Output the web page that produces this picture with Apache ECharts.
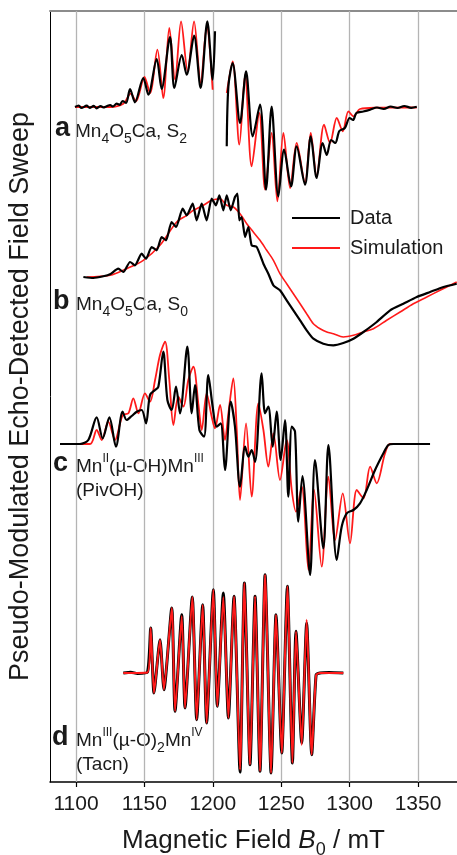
<!DOCTYPE html>
<html>
<head>
<meta charset="utf-8">
<title>Pseudo-modulated echo-detected field sweeps</title>
<style>
  html, body { margin: 0; padding: 0; background: #fff; }
  #chart { width: 457px; height: 855px; }
</style>
<script src="https://cdn.jsdelivr.net/npm/echarts@6/dist/echarts.min.js"></script>
</head>
<body>
<div id="chart"></div>
<script>
// field (mT), intensity (arb. units, relative to each trace's own baseline)
const xTicks = [1100, 1150, 1200, 1250, 1300, 1350];
const traceOffsets = [675, 505, 338, 109]; // a, b, c, d stacked

// a: Mn4O5Ca, S2 (gap around 1205 mT)
const aData = [
  [1099.3, 0], [1102, 1.5], [1104, -1], [1107.8, 1.3], [1110, -0.8], [1113, 1.2], [1115.1, -1.3],
  [1118, 1], [1120, -0.5], [1122.4, 0.7], [1125, 2], [1127, 0.5], [1129.7, 3.3], [1132, 2.2],
  [1134, 6], [1136.6, 4], [1139.5, 18], [1143.1, 4.7], [1149.2, 29], [1152.9, 12.3], [1159.0, 48],
  [1162.6, 18], [1168.7, 70], [1171.9, 19], [1177.3, 52], [1180.9, 32.3], [1186.3, 71.3],
  [1191.1, 19], [1196.0, 85.7], [1199.9, 27.3], [1201.6, 75.7],
  [1205, null],
  [1210.2, -39.3], [1211.4, 20.7], [1214.5, 44], [1219.9, -16], [1224.3, 35.7], [1229.2, -29.3],
  [1234.5, 2.3], [1238.9, -82.7], [1243.0, 0.3], [1247.9, -89.4], [1252.1, -42.7], [1257.2, -79.4],
  [1261.3, -39.3], [1267.4, -77.7], [1271.6, -29.3], [1275.9, -71], [1280.3, -36], [1283.3, -48],
  [1286.5, -33], [1289.5, -36], [1292.5, -24], [1296.5, -21], [1300, -11], [1302.5, -13],
  [1305, -6], [1310, -4.5], [1315, -2.7], [1320, -0.5], [1325, -2], [1330, 0.5], [1335, -1],
  [1340, 1], [1345, -0.8], [1349.1, 0.3]
];
const aSim = [
  [1099.3, 0], [1124.9, 0], [1134.6, 3.3], [1140.0, 13.3], [1143.9, 5.7], [1150.0, 30],
  [1154.1, 14], [1159.5, 57.3], [1163.8, 9], [1168.2, 79], [1172.4, 27.3], [1176.8, 85.7],
  [1181.6, 35.7], [1186.3, 85.7], [1191.1, 24], [1195.5, 80.7], [1199.9, 17.3],
  [1205, null],
  [1210.2, 14], [1214.5, 45.7], [1219.4, -37.7], [1223.6, 32.3], [1228.4, -59.4], [1234.0, -6],
  [1238.2, -82.7], [1243.0, -26], [1247.2, -94.4], [1251.6, -26], [1256.5, -81], [1261.3, -36],
  [1267.4, -76], [1271.6, -26], [1275.9, -69.4], [1281.3, -17.7], [1285.7, -36], [1290.6, -11],
  [1295.0, -24.3], [1299.1, -4.3], [1302.8, -9.3], [1307.6, -2], [1319.8, -0.7], [1349.1, -0.5]
];

// b: Mn4O5Ca, S0
const bData = [
  [1105.4, 0], [1112.7, -1], [1120.0, 0.7], [1124.9, 2.7], [1130.9, 8.3], [1134.6, 5],
  [1139.5, 15], [1143.1, 11.7], [1148.0, 23.3], [1151.2, 18.3], [1155.3, 30], [1159.0, 26.7],
  [1162.6, 40], [1165.8, 36.7], [1169.9, 55], [1173.1, 50], [1178.0, 68.3], [1180.9, 61.7],
  [1185.3, 73.3], [1188.2, 56.7], [1191.9, 73.3], [1195.5, 56.7], [1199.2, 78.3], [1202.3, 71.7],
  [1204.8, 81.7], [1207.7, 66.7], [1210.2, 81.7], [1213.1, 66.7], [1216.2, 80], [1218.0, 83.3],
  [1219.4, 56.7], [1221.1, 60], [1223.6, 40], [1226.0, 50], [1228.4, 31.7], [1232.1, 30],
  [1237.0, 13.3], [1240.6, 3.3], [1244.3, -8.3], [1249.1, -13.3], [1254.0, -23.3], [1258.9, -33.3],
  [1263.8, -43.3], [1268.6, -53.3], [1273.5, -61.7], [1280.8, -66.7], [1288.1, -68.3],
  [1295.4, -66], [1302.8, -61.7], [1310.1, -55], [1319.8, -45], [1329.6, -33.3], [1339.3, -26.7],
  [1349.1, -20], [1358.8, -15], [1368.6, -10], [1378.3, -6.7]
];
const bSim = [
  [1107.8, 0], [1124.9, 1.7], [1137.0, 8.3], [1149.2, 16.7], [1161.4, 31.7], [1173.6, 55],
  [1180.9, 61.7], [1185.8, 66.7], [1193.1, 71.7], [1199.2, 76.7], [1205.3, 78.3], [1210.2, 71.7],
  [1215.0, 70], [1219.9, 63.3], [1224.8, 53.3], [1229.6, 45], [1234.5, 36.7], [1239.4, 26.7],
  [1244.3, 16.7], [1249.1, 3.3], [1254.0, -6.7], [1258.9, -16.7], [1263.8, -26.7], [1268.6, -36.7],
  [1273.5, -46.7], [1278.4, -51.7], [1283.3, -55], [1288.1, -56.7], [1295.4, -60], [1302.8, -58.3],
  [1310.1, -55], [1317.4, -51.7], [1327.1, -43.3], [1336.9, -35], [1346.6, -26.7], [1356.4, -20],
  [1366.1, -13.3], [1378.3, -5]
];

// c: MnII(mu-OH)MnIII (PivOH)
const cData = [
  [1088.3, 0], [1102.9, 0], [1109.0, 4], [1115.1, 26.7], [1119.5, 5.7], [1124.4, 26.7],
  [1129.2, -2.7], [1134.1, 32.3], [1137.0, 24], [1140.7, 28], [1144.4, 32.3], [1148.0, 34],
  [1151.2, 20.7], [1154.1, 49], [1157.8, 54], [1160.2, 57.3], [1163.8, 92.3], [1166.8, 44],
  [1169.9, 34], [1173.1, 57.3], [1176.0, 30.7], [1181.4, 97.3], [1184.6, 30.7], [1187.0, 59],
  [1190.2, 14], [1193.6, 7.3], [1196.7, 69], [1199.9, 37.3], [1202.8, 17.3], [1205.8, 20.7],
  [1208.9, -26], [1213.1, 42.3], [1216.2, 17.3], [1219.9, -42.7], [1223.6, -2.7], [1226.0, -12.7],
  [1228.4, -6], [1230.9, -17.7], [1235.7, 70.7], [1238.2, 30.7], [1240.6, 37.3], [1243.8, -2.7],
  [1246.7, 32.3], [1249.6, -16], [1252.8, 24], [1255.2, -52.7], [1257.7, 17.3], [1260.1, 12.3],
  [1262.5, -77.7], [1265.5, -32], [1271.1, -131], [1274.7, -16], [1280.8, -104.3], [1284.5, -1],
  [1290.6, -116], [1294.2, -82.7], [1297.9, -69.3], [1302.8, -66], [1307.6, -59.3], [1312.5, -46],
  [1318.6, -26], [1324.7, -9.3], [1328.3, -1], [1332.0, 0], [1358.8, 0]
];
const cSim = [
  [1088.3, 0], [1110.2, 0], [1115.1, 14], [1118.8, 4], [1123.6, 22.3], [1128.5, 4], [1134.1, 29],
  [1138.3, 30.7], [1141.9, 45.7], [1145.6, 30.7], [1150.4, 50.7], [1154.1, 42.3], [1157.8, 64],
  [1161.4, 89], [1165.1, 102.3], [1168.2, 64], [1171.2, 19], [1174.8, 47.3], [1178.5, 37.3],
  [1182.1, 64], [1185.8, 77.3], [1189.4, 40.7], [1191.9, 14], [1195.5, 50.7], [1199.2, 27.3],
  [1201.6, 15.7], [1205.3, 39], [1208.9, 4], [1211.4, 30.7], [1215.0, 65.7], [1217.5, 14],
  [1219.9, -56], [1224.3, 20.7], [1228.4, -52.7], [1233.3, 40.7], [1237.0, 14], [1240.6, -22.7],
  [1244.3, 10.7], [1249.1, -36], [1254.0, 4], [1257.7, -46], [1260.8, -67.7], [1265.0, -42.7],
  [1269.9, -126], [1274.0, -46], [1279.6, -122.7], [1284.5, -32.7], [1289.4, -96], [1295.0, -49.3],
  [1300.3, -99.3], [1305.2, -46], [1310.1, -54.3], [1315.0, -22.7], [1319.8, -39.3],
  [1325.9, -9.3], [1329.6, 0], [1356.4, 0]
];

// d: MnIII(mu-O)2MnIV (Tacn)
const dData = [
  [1134.6, 0], [1140, 0.8], [1145, -0.5], [1152.2, 0.7], [1154.6, 45], [1157.0, -20],
  [1161.4, 33.3], [1164.3, -16.7], [1170.0, 65], [1172.4, -38.3], [1177.3, 58.3], [1179.7, -35],
  [1185.0, 76], [1188.2, -46.7], [1192.6, 68.3], [1195.5, -50], [1200.4, 83.3], [1203.3, -33.3],
  [1207.7, 80], [1211.4, -45], [1215.5, 76.7], [1219.9, -99], [1223.1, 90], [1227.2, -91.7],
  [1230.9, 76.7], [1234.5, -98.3], [1238.2, 98.3], [1242.6, -100], [1246.2, 58.3], [1250.4, -80],
  [1254.5, 86.7], [1258.2, -90], [1260.8, 41.7], [1265.0, -70], [1268.6, 50], [1272.3, -81.7],
  [1275.5, -2], [1278.4, 0], [1285, 0.5], [1295.4, 0]
];
const dSim = [
  [1134.6, 0], [1152.2, 0.5], [1154.6, 45], [1157.0, -20], [1161.4, 33.3], [1164.3, -16.7],
  [1170.0, 65], [1172.4, -38.3], [1177.3, 57], [1179.7, -35], [1185.0, 76], [1188.2, -46.7],
  [1192.6, 68.3], [1195.5, -50], [1200.4, 83.3], [1203.3, -33.3], [1207.7, 76], [1211.4, -45],
  [1215.5, 76.7], [1219.9, -96.7], [1223.1, 90], [1227.2, -91.7], [1230.9, 76.7], [1234.5, -98.3],
  [1238.2, 98.3], [1242.6, -100], [1246.2, 58.3], [1250.4, -80], [1254.5, 86.7], [1258.2, -90],
  [1260.8, 41.7], [1265.0, -72], [1268.6, 53.3], [1272.3, -81.7], [1275.5, -2], [1278.4, 0],
  [1295.4, 0]
];

const FONT = '"Liberation Sans", Arial, Helvetica, sans-serif';
const BLACK = '#000000';
const RED = '#ff1a1a';

const shift = (pts, off) => pts.map(p => [p[0], p[1] == null ? null : p[1] + off]);

function trace(name, pts, off, color, width, z, smooth) {
  return {
    name: name,
    type: 'line',
    data: shift(pts, off),
    showSymbol: false,
    symbol: 'none',
    smooth: smooth,
    connectNulls: false,
    color: color,
    lineStyle: { color: color, width: width },
    z: z,
    silent: true
  };
}

const series = [
  trace('Simulation', aSim, traceOffsets[0], RED, 1.8, 3, 0.3),
  trace('Data', aData, traceOffsets[0], BLACK, 2.2, 4, 0.3),
  trace('Simulation', bSim, traceOffsets[1], RED, 1.6, 3, 0.3),
  trace('Data', bData, traceOffsets[1], BLACK, 2.2, 4, 0.2),
  trace('Simulation', cSim, traceOffsets[2], RED, 1.8, 3, 0.3),
  trace('Data', cData, traceOffsets[2], BLACK, 2.2, 4, 0.3),
  trace('Data', dData, traceOffsets[3], BLACK, 3, 3, 0.2),
  trace('Simulation', dSim, traceOffsets[3], RED, 2, 4, 0.2)
];

// vertical grid lines at the tick fields
series[0].markLine = {
  silent: true,
  symbol: ['none', 'none'],
  label: { show: false },
  z: 1,
  animation: false,
  lineStyle: { color: '#b4b4b4', width: 1.3, type: 'solid' },
  data: xTicks.map(v => ({ xAxis: v }))
};

const labelRich = {
  m: { fontSize: 19, lineHeight: 19, verticalAlign: 'top', padding: [4, 0, 0, 0], fontFamily: FONT, color: '#1a1a1a' },
  sub: { fontSize: 14, lineHeight: 14, verticalAlign: 'top', padding: [14, 0, 0, 0], fontFamily: FONT, color: '#1a1a1a' },
  sup: { fontSize: 12, lineHeight: 12, verticalAlign: 'top', fontFamily: FONT, color: '#1a1a1a' }
};

function letter(ch, x, baseline) {
  return {
    type: 'text', x: x, y: baseline - 8, silent: true,
    style: { text: ch, fontSize: 27, fontWeight: 'bold', fontFamily: FONT, fill: '#1a1a1a', verticalAlign: 'middle' }
  };
}
function richLabel(text, x, baseline) {
  return {
    type: 'text', x: x, y: baseline - 19.2, silent: true,
    style: { text: text, rich: labelRich, verticalAlign: 'top', fill: '#1a1a1a' }
  };
}

const chart = echarts.init(document.getElementById('chart'));
chart.setOption({
  animation: false,
  backgroundColor: '#ffffff',
  grid: { left: 50, right: 0, top: 11, bottom: 73, containLabel: false, outerBoundsMode: 'none' },
  legend: {
    orient: 'vertical',
    left: 287,
    top: 203,
    padding: 5,
    itemGap: 10,
    itemWidth: 48,
    itemHeight: 2,
    icon: 'rect',
    selectedMode: false,
    data: ['Data', 'Simulation'],
    textStyle: { fontSize: 20, color: '#1a1a1a', fontFamily: FONT, padding: [0, 0, 0, 5] }
  },
  xAxis: [
    {
      type: 'value',
      min: 1081,
      max: 1378.5,
      name: '{m|Magnetic Field }{i|B}{s|0}{m| / mT}',
      nameLocation: 'middle',
      nameGap: 46,
      nameTextStyle: {
        rich: {
          m: { fontSize: 26, lineHeight: 26, verticalAlign: 'top', fontFamily: FONT, color: '#1a1a1a' },
          i: { fontSize: 26, lineHeight: 26, verticalAlign: 'top', fontStyle: 'italic', fontFamily: FONT, color: '#1a1a1a' },
          s: { fontSize: 18, lineHeight: 18, verticalAlign: 'top', padding: [13, 0, 0, 0], fontFamily: FONT, color: '#1a1a1a' }
        }
      },
      axisLine: { show: true, onZero: false, lineStyle: { color: '#000', width: 1.5 } },
      axisTick: { show: true, length: 5, customValues: xTicks, lineStyle: { color: '#000', width: 1.2 } },
      axisLabel: {
        customValues: xTicks,
        formatter: v => String(v),
        fontSize: 21,
        margin: 12,
        color: '#1a1a1a',
        fontFamily: FONT
      },
      splitLine: { show: false }
    },
    {
      type: 'value',
      position: 'top',
      min: 1081,
      max: 1378.5,
      axisLine: { show: true, onZero: false, lineStyle: { color: '#8c8c8c', width: 2 } },
      axisTick: { show: false },
      axisLabel: { show: false },
      splitLine: { show: false }
    }
  ],
  yAxis: {
    type: 'value',
    min: 0,
    max: 771,
    name: 'Pseudo-Modulated Echo-Detected Field Sweep',
    nameLocation: 'middle',
    nameRotate: 90,
    nameGap: 16,
    nameTextStyle: { fontSize: 27, color: '#1a1a1a', fontFamily: FONT },
    axisLine: { show: true, onZero: false, lineStyle: { color: '#000', width: 1 } },
    axisTick: { show: false },
    axisLabel: { show: false },
    splitLine: { show: false }
  },
  series: series,
  graphic: [
    letter('a', 55, 137),
    richLabel('{m|Mn}{sub|4}{m|O}{sub|5}{m|Ca, S}{sub|2}', 75, 137),
    letter('b', 53, 310),
    richLabel('{m|Mn}{sub|4}{m|O}{sub|5}{m|Ca, S}{sub|0}', 76, 310),
    letter('c', 53, 472),
    richLabel('{m|Mn}{sup|II}{m|(µ-OH)Mn}{sup|III}', 76, 472),
    richLabel('{m|(PivOH)}', 76, 496),
    letter('d', 52, 746),
    richLabel('{m|Mn}{sup|III}{m|(µ-O)}{sub|2}{m|Mn}{sup|IV}', 76, 746),
    richLabel('{m|(Tacn)}', 76, 770)
  ]
});
window.addEventListener('resize', () => chart.resize());
</script>
</body>
</html>
